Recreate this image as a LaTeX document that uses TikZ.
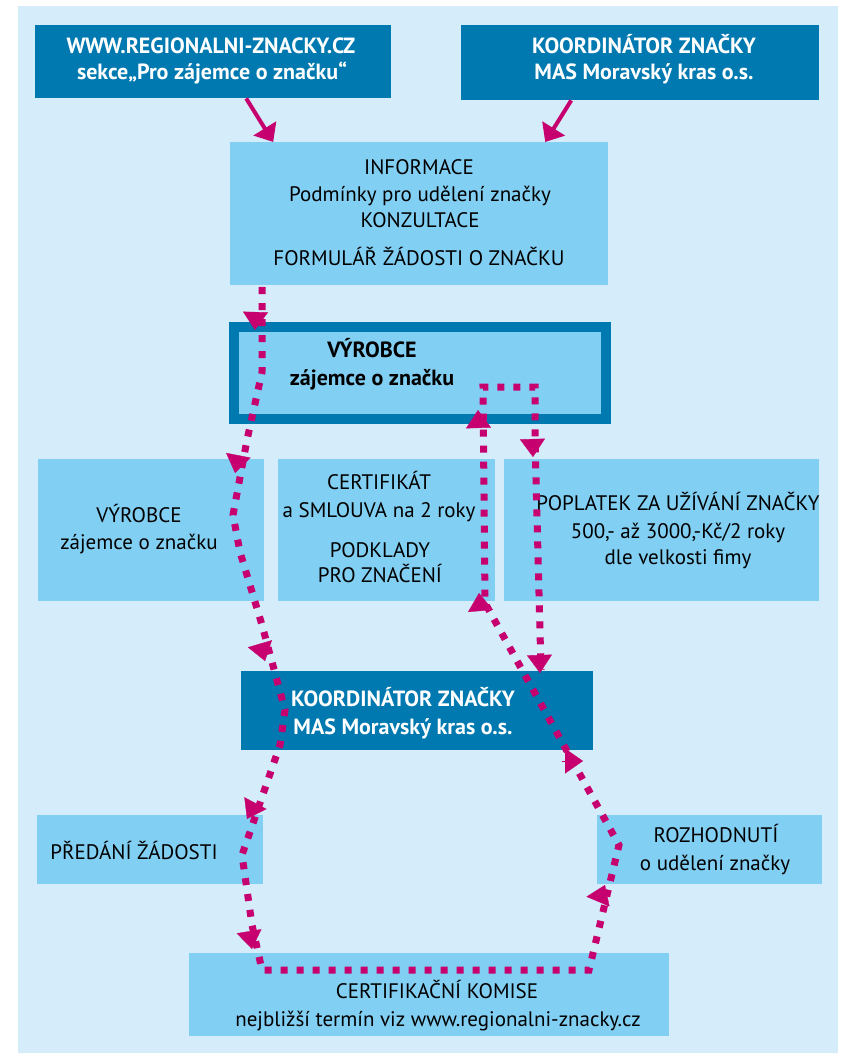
\documentclass[tikz,border=0pt]{standalone}
\usepackage{fontspec}
\setmainfont{PT Sans}
\usetikzlibrary{arrows.meta}
\definecolor{bgblue}{HTML}{D5ECFA}
\definecolor{lightbox}{HTML}{82CFF4}
\definecolor{darkbox}{HTML}{0079B0}
\definecolor{mag}{HTML}{C6006F}
\begin{document}
\begin{tikzpicture}[x=1pt,y=-1pt,
  lbox/.style={fill=lightbox, inner sep=0pt, anchor=north west},
  dbox/.style={fill=darkbox, inner sep=0pt, anchor=north west},
  ntxt/.style={inner sep=0pt, text height=14.5pt, text depth=0pt, font=\fontsize{21}{25}\selectfont},
  btxt/.style={ntxt, font=\fontsize{22}{26}\selectfont\bfseries},
  wtxt/.style={btxt, text=white},
  flow/.style={draw=mag, line width=7pt, dash pattern=on 7pt off 9pt, line cap=butt, line join=miter},
  head/.style={draw=mag, fill=mag, line width=0.3pt, -{Triangle[length=18pt,width=25pt]}},
  solidarr/.style={draw=mag, line width=4pt, -{Triangle[length=16pt,width=26pt]}}
]
\useasboundingbox (0,0) rectangle (843,1056);
\fill[bgblue] (18,6) rectangle (838,1053);

% boxes
\node[dbox, minimum width=356pt, minimum height=73pt] (tl) at (35,25) {};
\node[dbox, minimum width=358pt, minimum height=75pt] (tr) at (461,25) {};
\node[lbox, minimum width=378pt, minimum height=143pt] (info) at (230,142) {};
\node[lbox, draw=darkbox, line width=10pt, minimum width=372pt, minimum height=92pt] (vyr) at (229,322) {};
\node[lbox, minimum width=226pt, minimum height=142pt] (l1) at (38,459) {};
\node[lbox, minimum width=217pt, minimum height=142pt] (m1) at (278,459) {};
\node[lbox, minimum width=315pt, minimum height=142pt] (r1) at (504,459) {};
\node[dbox, minimum width=352pt, minimum height=79pt] (koord) at (241,671) {};
\node[lbox, minimum width=226pt, minimum height=69pt] (pred) at (37,815) {};
\node[lbox, minimum width=225pt, minimum height=69pt] (rozh) at (597,815) {};
\node[lbox, minimum width=480pt, minimum height=83pt] (kom) at (189,953) {};

% texts
\node[wtxt] (tl1) at (211,46) {WWW.REGIONALNI-ZNACKY.CZ};
\node[wtxt] (tl2) at (212,72) {sekce„Pro zájemce o značku“};
\node[wtxt] (tr1) at (644,46) {KOORDINÁTOR ZNAČKY};
\node[wtxt] (tr2) at (644,72) {MAS Moravský kras o.s.};
\node[ntxt] (in1) at (419,167) {INFORMACE};
\node[ntxt] (in2) at (420,194) {Podmínky pro udělení značky};
\node[ntxt] (in3) at (420,220) {KONZULTACE};
\node[ntxt] (in4) at (419,258) {FORMULÁŘ ŽÁDOSTI O ZNAČKU};
\node[btxt] (vy1) at (372,350) {VÝROBCE};
\node[btxt] (vy2) at (372,378) {zájemce o značku};
\node[ntxt] (l1a) at (139,515) {VÝROBCE};
\node[ntxt] (l1b) at (139,542) {zájemce o značku};
\node[ntxt] (m1a) at (379,482) {CERTIFIKÁT};
\node[ntxt] (m1b) at (379,510) {a SMLOUVA na 2 roky};
\node[ntxt] (m1c) at (380,550) {PODKLADY};
\node[ntxt] (m1d) at (380,575) {PRO ZNAČENÍ};
\node[ntxt] (r1a) at (678,503) {POPLATEK ZA UŽÍVÁNÍ ZNAČKY};
\node[ntxt] (r1b) at (678,531) {500,- až 3000,-Kč/2 roky};
\node[ntxt] (r1c) at (678,557) {dle velkosti fimy};
\node[wtxt] (ko1) at (403,699) {KOORDINÁTOR ZNAČKY};
\node[wtxt] (ko2) at (403,727) {MAS Moravský kras o.s.};
\node[ntxt] (pr1) at (134,852) {PŘEDÁNÍ ŽÁDOSTI};
\node[ntxt] (ro1) at (716,835) {ROZHODNUTÍ};
\node[ntxt] (ro2) at (715,863) {o udělení značky};
\node[ntxt] (ko3) at (437,991) {CERTIFIKAČNÍ KOMISE};
\node[ntxt] (ko4) at (438,1019) {nejbližší termín viz www.regionalni-znacky.cz};

% solid arrows
\draw[solidarr] ([xshift=33pt]tl.south) -- ([xshift=-146pt]info.north);
\draw[solidarr] ([xshift=-69pt]tr.south) -- ([xshift=126pt]info.north);

% route waypoints
\coordinate (w01) at (262,287);
\coordinate (w02) at (262,372);
\coordinate (w03) at (247,440);
\coordinate (w04) at (233,515);
\coordinate (w05) at (240,552);
\coordinate (w06) at (262,625);
\coordinate (w07) at (285,710);
\coordinate (w08) at (280,745);
\coordinate (w09) at (242,855);
\coordinate (w10) at (252,925);
\coordinate (w11) at (262,970);
\coordinate (w12) at (589,970);
\coordinate (w13) at (619,845);
\coordinate (w14) at (485,603);
\coordinate (w15) at (483,387);
\coordinate (w16) at (535,387);
\coordinate (w17) at (535,440);
\coordinate (w18) at (541,670);
\draw[flow] (w01) -- (w02) -- (w03) -- (w04) -- (w05) -- (w06) -- (w07) -- (w08) -- (w09) -- (w10) -- (w11)
  -- (w12) -- (w13) -- (w14) -- (w15) -- (w16) -- (w17) -- (w18);

% arrowheads (base -> apex)
\coordinate (b1) at (255.5,312);  \coordinate (a1) at (255,330);
\coordinate (b2) at (238.5,455);  \coordinate (a2) at (235,473);
\coordinate (b3) at (260,644);    \coordinate (a3) at (265,661);
\coordinate (b4) at (255.5,803);  \coordinate (a4) at (247,819);
\coordinate (b5) at (249,931);    \coordinate (a5) at (252,949);
\coordinate (b6) at (598,901.5);  \coordinate (a6) at (605,885);
\coordinate (b7) at (561.5,761);  \coordinate (a7) at (583,761);
\coordinate (b8) at (480.5,611);  \coordinate (a8) at (479,593);
\coordinate (b9) at (478.5,427);  \coordinate (a9) at (478,410);
\coordinate (b10) at (532.5,440); \coordinate (a10) at (533,457);
\coordinate (b11) at (539.5,657); \coordinate (a11) at (540,673);
\foreach \i in {1,...,11} {\draw[head] (b\i) -- (a\i);}
\end{tikzpicture}
\end{document}
